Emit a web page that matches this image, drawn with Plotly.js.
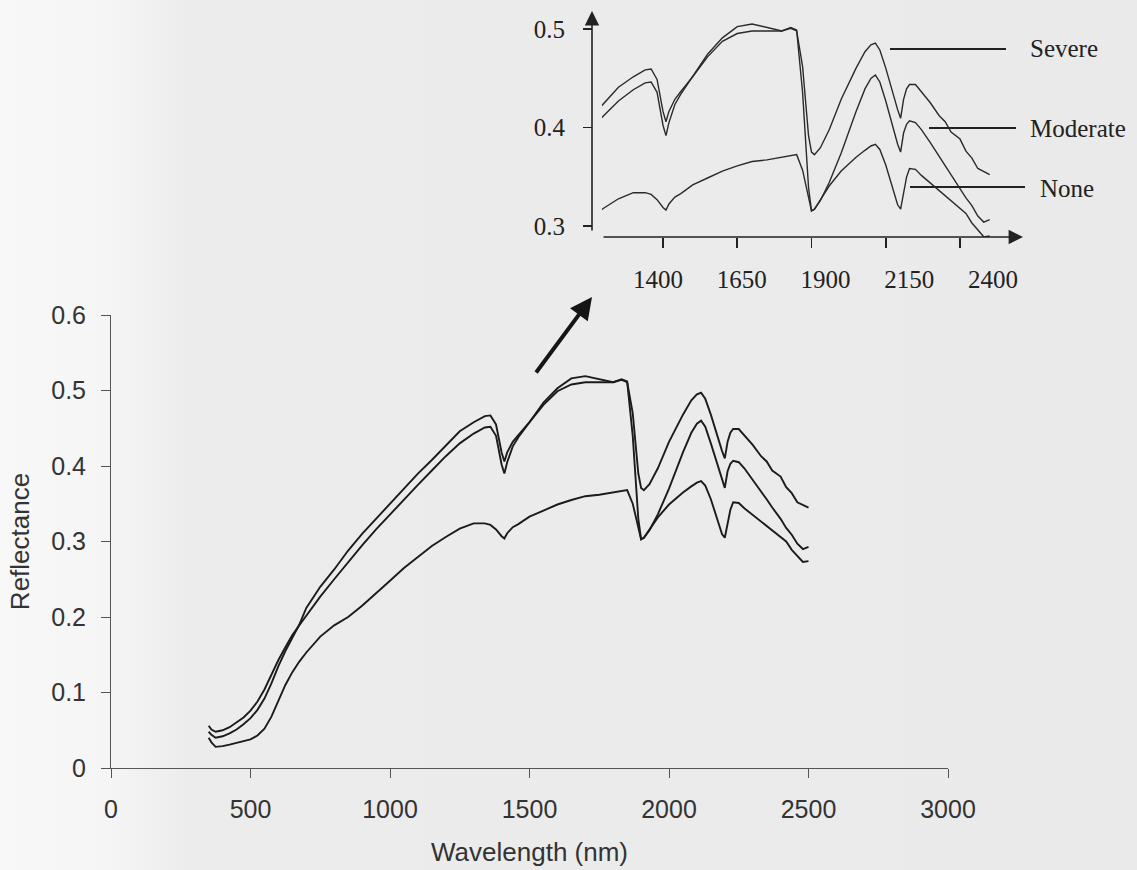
<!DOCTYPE html>
<html>
<head>
<meta charset="utf-8">
<script src="https://cdn.plot.ly/plotly-3.0.1.min.js"></script>
<style>
  html, body { margin: 0; padding: 0; }
  body {
    width: 1137px; height: 870px; overflow: hidden;
    background: linear-gradient(to right, #f8f8f8 0px, #f5f5f5 110px, #ececec 190px, #eaeaea 100%);
  }
  #chart { width: 1137px; height: 870px; }
</style>
</head>
<body>
<div id="chart"></div>
<script>
// ---------------- data ----------------
const wavelength = [350,360,375,400,425,450,475,500,525,550,575,600,625,650,675,700,
  750,800,850,900,950,1000,1050,1100,1150,1200,1250,1300,1340,1360,1380,1400,
  1410,1420,1440,1460,1500,1550,1600,1650,1700,1750,1800,1830,1850,1870,1890,1900,
  1910,1930,1960,2000,2050,2080,2100,2115,2130,2150,2170,2190,2200,2210,2220,2230,
  2250,2270,2300,2330,2350,2370,2400,2420,2440,2460,2480,2500];

const severe = [0.048,0.044,0.040,0.042,0.046,0.051,0.058,0.066,0.077,0.092,0.112,0.135,0.155,0.173,0.190,0.212,
  0.240,0.263,0.288,0.310,0.330,0.350,0.370,0.390,0.408,0.427,0.446,0.458,0.466,0.467,0.455,0.418,
  0.406,0.418,0.432,0.441,0.458,0.481,0.499,0.508,0.511,0.511,0.511,0.514,0.511,0.470,0.390,0.371,
  0.368,0.376,0.397,0.432,0.468,0.487,0.495,0.497,0.489,0.468,0.443,0.420,0.410,0.432,0.444,0.449,
  0.449,0.441,0.428,0.413,0.406,0.394,0.386,0.372,0.364,0.352,0.348,0.345];

const moderate = [0.056,0.051,0.048,0.050,0.054,0.060,0.067,0.076,0.088,0.104,0.124,0.143,0.160,0.176,0.189,0.202,
  0.227,0.250,0.273,0.295,0.316,0.336,0.355,0.375,0.394,0.413,0.430,0.443,0.451,0.452,0.440,0.402,
  0.390,0.405,0.426,0.438,0.458,0.484,0.503,0.516,0.519,0.515,0.511,0.515,0.512,0.440,0.330,0.303,
  0.305,0.315,0.336,0.370,0.418,0.444,0.456,0.460,0.452,0.430,0.405,0.380,0.371,0.393,0.403,0.407,
  0.405,0.397,0.382,0.366,0.356,0.345,0.330,0.318,0.309,0.297,0.290,0.293];

const none = [0.040,0.034,0.028,0.029,0.031,0.033,0.035,0.038,0.043,0.052,0.068,0.090,0.110,0.127,0.141,0.153,
  0.174,0.189,0.200,0.215,0.231,0.248,0.265,0.280,0.294,0.306,0.317,0.324,0.324,0.322,0.316,0.307,
  0.304,0.311,0.319,0.323,0.333,0.341,0.349,0.355,0.360,0.362,0.365,0.367,0.368,0.350,0.316,0.303,
  0.305,0.316,0.332,0.349,0.365,0.373,0.378,0.380,0.374,0.356,0.332,0.310,0.305,0.326,0.342,0.352,
  0.351,0.344,0.335,0.327,0.320,0.315,0.306,0.300,0.289,0.281,0.273,0.274];

const seriesNames = ['Severe', 'Moderate', 'None'];
const seriesValues = [severe, moderate, none];

const mainXTicks = [0, 500, 1000, 1500, 2000, 2500, 3000];
const mainYTicks = [0, 0.1, 0.2, 0.3, 0.4, 0.5, 0.6];
const mainYTickLabels = ['0', '0.1', '0.2', '0.3', '0.4', '0.5', '0.6'];
const insetXTicks = [1400, 1650, 1900, 2150, 2400];
const insetYTicks = [0.3, 0.4, 0.5];
const insetYTickLabels = ['0.3', '0.4', '0.5'];

// ---------------- layout helpers ----------------
const W = 1137, H = 870;
const fx = p => p / W;
const fy = p => 1 - p / H;

const SANS = 'Liberation Sans, Arial, sans-serif';
const SERIF = 'Liberation Serif, Times New Roman, serif';
const INK = '#1b1b1b';

const traces = [];
seriesValues.forEach((vals, i) => {
  traces.push({
    x: wavelength, y: vals, xaxis: 'x', yaxis: 'y', name: seriesNames[i],
    mode: 'lines', line: {color: INK, width: 1.9}, showlegend: false, hoverinfo: 'skip'
  });
});
seriesValues.forEach((vals, i) => {
  traces.push({
    x: wavelength, y: vals, xaxis: 'x2', yaxis: 'y2', name: seriesNames[i] + ' (inset)',
    mode: 'lines', line: {color: '#2a2a2a', width: 1.4}, showlegend: false, hoverinfo: 'skip'
  });
});
// carriers for the inset label axes
traces.push({x: insetXTicks, y: insetXTicks.map(() => null), xaxis: 'x3', yaxis: 'y2',
  mode: 'lines', showlegend: false, hoverinfo: 'skip'});
traces.push({x: insetYTicks.map(() => null), y: insetYTicks, xaxis: 'x2', yaxis: 'y3',
  mode: 'lines', showlegend: false, hoverinfo: 'skip'});

const noGrid = {showgrid: false, zeroline: false, fixedrange: true};

const layout = {
  width: W, height: H,
  margin: {l: 0, r: 0, t: 0, b: 0},
  paper_bgcolor: 'rgba(0,0,0,0)',
  plot_bgcolor: 'rgba(0,0,0,0)',
  showlegend: false,
  xaxis: Object.assign({}, noGrid, {
    domain: [fx(111), fx(948)], range: [0, 3000], anchor: 'y',
    tickmode: 'array', tickvals: mainXTicks,
    ticks: 'outside', ticklen: 9, tickwidth: 1, tickcolor: '#555',
    showline: true, linecolor: '#555', linewidth: 1,
    tickfont: {family: SANS, size: 25, color: '#333'},
    ticklabelstandoff: 10,
    title: {text: 'Wavelength (nm)', font: {family: SANS, size: 26, color: '#333'}, standoff: 20}
  }),
  yaxis: Object.assign({}, noGrid, {
    domain: [fy(768), fy(315)], range: [0, 0.6], anchor: 'x',
    tickmode: 'array', tickvals: mainYTicks, ticktext: mainYTickLabels,
    ticks: 'outside', ticklen: 9, tickwidth: 1, tickcolor: '#555',
    showline: true, linecolor: '#555', linewidth: 1,
    tickfont: {family: SANS, size: 25, color: '#333'},
    ticklabelstandoff: 10,
    title: {text: 'Reflectance', font: {family: SANS, size: 26, color: '#333'}, standoff: 14}
  }),
  xaxis2: Object.assign({}, noGrid, {
    domain: [fx(602), fx(1020)], range: [1194.6, 2602], anchor: 'y2',
    tickmode: 'array', tickvals: insetXTicks,
    ticks: 'outside', ticklen: 10, tickwidth: 1.6, tickcolor: '#222',
    showticklabels: false, showline: false
  }),
  yaxis2: Object.assign({}, noGrid, {
    domain: [fy(237), fy(10)], range: [0.27279, 0.53521], anchor: 'x2',
    ticks: '', showticklabels: false, showline: false
  }),
  xaxis3: Object.assign({}, noGrid, {
    overlaying: 'x2', anchor: 'y2', range: [1232.8, 2480.6],
    tickmode: 'array', tickvals: insetXTicks,
    ticks: '', showline: false,
    tickfont: {family: SERIF, size: 25, color: '#222'},
    ticklabelstandoff: 25
  }),
  yaxis3: Object.assign({}, noGrid, {
    overlaying: 'y2', anchor: 'free', position: fx(592), side: 'left',
    range: [0.28883, 0.51929],
    tickmode: 'array', tickvals: insetYTicks, ticktext: insetYTickLabels,
    ticks: 'outside', ticklen: 9, tickwidth: 1.6, tickcolor: '#222',
    showline: false,
    tickfont: {family: SERIF, size: 25, color: '#222'},
    ticklabelstandoff: 13
  }),
  shapes: [
    {type: 'line', xref: 'paper', yref: 'paper', x0: fx(890), x1: fx(1006), y0: fy(49), y1: fy(49), line: {color: '#222', width: 2}},
    {type: 'line', xref: 'paper', yref: 'paper', x0: fx(929), x1: fx(1016), y0: fy(128), y1: fy(128), line: {color: '#222', width: 2}},
    {type: 'line', xref: 'paper', yref: 'paper', x0: fx(910), x1: fx(1025), y0: fy(187), y1: fy(187), line: {color: '#222', width: 2}}
  ],
  annotations: [
    // inset y axis with arrow
    {xref: 'paper', yref: 'paper', x: fx(592), y: fy(11), ax: 0, ay: 221, axref: 'pixel', ayref: 'pixel',
     text: '', showarrow: true, arrowhead: 2, arrowsize: 1.8, arrowwidth: 1.6, arrowcolor: '#222'},
    // inset x axis with arrow
    {xref: 'paper', yref: 'paper', x: fx(1023), y: fy(237), ax: -421, ay: 0, axref: 'pixel', ayref: 'pixel',
     text: '', showarrow: true, arrowhead: 2, arrowsize: 1.8, arrowwidth: 1.6, arrowcolor: '#222'},
    // pointer arrow from main chart to inset
    {xref: 'paper', yref: 'paper', x: fx(592), y: fy(297), ax: -57, ay: 77, axref: 'pixel', ayref: 'pixel',
     text: '', showarrow: true, arrowhead: 2, arrowsize: 1.1, arrowwidth: 4, arrowcolor: '#151515'},
    // series labels
    {xref: 'paper', yref: 'paper', x: fx(1028), y: fy(49), xanchor: 'left', yanchor: 'middle', showarrow: false,
     text: seriesNames[0], font: {family: SERIF, size: 25, color: '#222'}},
    {xref: 'paper', yref: 'paper', x: fx(1028), y: fy(128), xanchor: 'left', yanchor: 'middle', showarrow: false,
     text: seriesNames[1], font: {family: SERIF, size: 25, color: '#222'}},
    {xref: 'paper', yref: 'paper', x: fx(1038), y: fy(188), xanchor: 'left', yanchor: 'middle', showarrow: false,
     text: seriesNames[2], font: {family: SERIF, size: 25, color: '#222'}}
  ]
};

Plotly.newPlot('chart', traces, layout, {staticPlot: true, displayModeBar: false});
</script>
</body>
</html>
